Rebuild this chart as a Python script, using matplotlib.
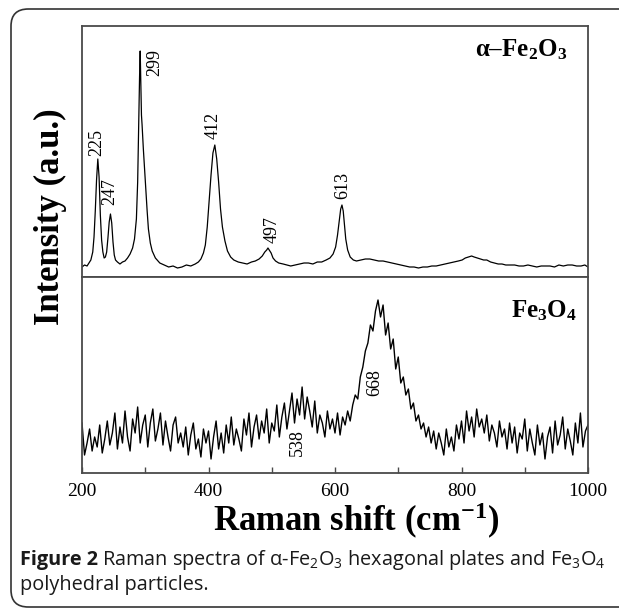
import matplotlib
matplotlib.use("Agg")
import matplotlib.pyplot as plt
from matplotlib.patches import FancyBboxPatch

plt.rcParams["font.family"] = ["Liberation Serif", "DejaVu Serif"]
plt.rcParams["mathtext.fontset"] = "custom"
plt.rcParams["mathtext.rm"] = "Liberation Serif"
plt.rcParams["mathtext.bf"] = "Liberation Serif:bold"
plt.rcParams["mathtext.it"] = "Liberation Serif:italic"
plt.rcParams["mathtext.sf"] = "Open Sans"

# alpha-Fe2O3 spectrum
top_shift = [200, 204, 208, 211, 214, 217, 219, 221, 223, 225, 227, 229, 231, 233, 235,
             237, 239, 241, 243, 245, 247, 249, 251, 253, 256, 260, 264, 268, 272, 276,
             280, 283, 286, 288, 289.5, 291, 292, 293, 294, 295, 297, 300, 303, 305, 308,
             311, 316, 323, 330, 337, 344, 351, 358, 365, 372, 379, 384, 388, 392, 395,
             398, 401, 404, 407, 410, 413, 416, 419, 422, 426, 430, 435, 440, 447, 454,
             461, 468, 474, 480, 485, 489, 492, 494, 496, 499, 502, 506, 511, 518, 524,
             530, 537, 544, 551, 558, 565, 572, 579, 586, 592, 597, 601, 604, 607, 609,
             611, 613, 615, 617, 620, 624, 629, 634, 641, 648, 655, 662, 669, 676, 683,
             690, 697, 704, 711, 718, 725, 732, 739, 746, 753, 760, 767, 774, 781, 788,
             795, 801, 806, 811, 816, 820, 825, 830, 835, 840, 846, 852, 858, 864, 870,
             877, 884, 891, 898, 905, 912, 919, 926, 933, 940, 947, 954, 961, 968, 975,
             982, 989, 995, 1000]
top_intensity = [10, 12, 11, 14, 17, 25, 40, 66, 97, 118, 100, 62, 37, 25, 19,
                 20, 25, 39, 55, 63, 54, 35, 22, 17, 15, 13, 15, 16, 19, 23,
                 29, 38, 58, 95, 147, 200, 226, 195, 162, 152, 128, 97, 66, 48, 34,
                 26, 19, 14, 12, 10, 11, 9, 10, 12, 11, 13, 15, 18, 24, 32,
                 50, 76, 102, 124, 132, 118, 95, 68, 50, 36, 26, 20, 17, 15, 14,
                 13, 15, 16, 18, 21, 25, 27, 29, 27, 24, 19, 16, 14, 13, 12,
                 11, 12, 13, 14, 14, 13, 15, 15, 17, 19, 23, 30, 42, 58, 68,
                 72, 66, 52, 38, 27, 20, 17, 16, 17, 18, 18, 17, 16, 16, 15,
                 14, 13, 12, 11, 10, 10, 9, 10, 10, 11, 11, 12, 13, 14, 15,
                 16, 17, 19, 20, 21, 20, 19, 18, 17, 17, 15, 14, 13, 13, 12,
                 12, 12, 11, 11, 12, 11, 10, 11, 11, 11, 10, 12, 11, 12, 12,
                 11, 11, 12, 10]

# Fe3O4 spectrum, 4 cm-1 steps from 200 to 1000
bottom_shift = list(range(200, 1001, 4))
bottom_intensity = [
    50, 18, 30, 44, 22, 36, 26, 48, 20, 34,
    52, 28, 40, 60, 24, 46, 30, 62, 36, 22,
    54, 40, 66, 30, 48, 58, 26, 50, 64, 32,
    44, 60, 28, 52, 36, 22, 48, 56, 30, 40,
    26, 46, 18, 38, 50, 24, 34, 16, 44, 30,
    42, 14, 36, 52, 24, 40, 20, 48, 30, 56,
    28, 44, 34, 22, 54, 38, 60, 26, 46, 58,
    34, 52, 40, 64, 30, 50, 42, 68, 36, 56,
    70, 44, 62, 80, 50, 74, 58, 86, 54, 76,
    62, 46, 72, 40, 58, 50, 36, 62, 44, 54,
    40, 60, 38, 56, 48, 62, 52, 68, 78, 74,
    96, 106, 122, 130, 148, 142, 162, 173, 156, 168,
    138, 150, 124, 134, 104, 116, 90, 96, 78, 84,
    64, 70, 52, 58, 44, 50, 36, 46, 30, 42,
    24, 40, 30, 18, 44, 26, 36, 22, 48, 34,
    52, 30, 62, 42, 56, 36, 64, 46, 54, 40,
    58, 32, 48, 40, 26, 52, 36, 44, 24, 50,
    30, 46, 20, 40, 34, 54, 22, 44, 30, 18,
    48, 28, 40, 14, 36, 46, 20, 52, 28, 38,
    56, 24, 44, 32, 18, 50, 30, 60, 26, 42,
    48]

top_peaks = ["225", "247", "299", "412", "497", "613"]
top_peak_x = [223.7, 244, 315.4, 407, 500, 612.6]
top_peak_y = [135, 85, 214, 152, 47, 92]
bottom_peaks = ["538", "668"]
bottom_peak_x = [540, 663]
bottom_peak_y = [30, 90]

xticks = [200, 400, 600, 800, 1000]
xminor = [300, 500, 700, 900]

W, H = 619, 609
fig = plt.figure(figsize=(W / 100, H / 100), dpi=100)

spine_c = "#4a4a4a"
ax_top = fig.add_axes([82 / W, 1 - 277 / H, 506 / W, 251 / H])
ax_bot = fig.add_axes([82 / W, 1 - 473 / H, 506 / W, 196 / H], sharex=ax_top)

ax_top.plot(top_shift, top_intensity, color="black", lw=0.9)
ax_bot.plot(bottom_shift, bottom_intensity, color="black", lw=1.0)

ax_top.set_ylim(0, 251)
ax_bot.set_ylim(0, 196)
ax_bot.set_xlim(200, 1000)

for ax in (ax_top, ax_bot):
    for s in ax.spines.values():
        s.set_color(spine_c)
        s.set_linewidth(1.3)
    ax.set_yticks([])
ax_top.tick_params(axis="x", bottom=False, labelbottom=False)
ax_bot.set_xticks(xticks)
ax_bot.set_xticks(xminor, minor=True)
ax_bot.tick_params(axis="x", which="both", direction="in", length=4, width=1,
                   color=spine_c, labelsize=14, pad=7)

for lab, x, y in zip(top_peaks, top_peak_x, top_peak_y):
    ax_top.text(x, y, lab, rotation=90, ha="center", va="center", fontsize=13)
for lab, x, y in zip(bottom_peaks, bottom_peak_x, bottom_peak_y):
    ax_bot.text(x, y, lab, rotation=90, ha="center", va="center", fontsize=13)

ax_top.text(967, 227, "α–Fe$_\\mathbf{2}$O$_\\mathbf{3}$", ha="right", va="center",
            fontsize=18, fontweight="bold")
ax_bot.text(983, 162, "Fe$_\\mathbf{3}$O$_\\mathbf{4}$", ha="right", va="center",
            fontsize=18, fontweight="bold")

fig.text(356 / W, 1 - 521 / H, "Raman shift (cm$^{\\mathbf{-1}}$)", ha="center",
         va="center", fontsize=25, fontweight="bold")
fig.text(50 / W, 1 - 217 / H, "Intensity (a.u.)", ha="center", va="center",
         rotation=90, fontsize=25, fontweight="bold")

# caption
cap_kw = dict(family=["Open Sans", "DejaVu Sans"], fontsize=14.3, color="#1a1a1a",
              va="baseline")
t1 = fig.text(20 / W, 1 - 565 / H, "Figure 2", fontweight="bold", **cap_kw)
r = fig.canvas.get_renderer()
w1 = t1.get_window_extent(r).width
fig.text(20 / W + (w1 + 4) / W, 1 - 565 / H,
         "Raman spectra of α-Fe$_\\mathsf{2}$O$_\\mathsf{3}$ hexagonal plates and "
         "Fe$_\\mathsf{3}$O$_\\mathsf{4}$", **cap_kw)
fig.text(20 / W, 1 - 590 / H, "polyhedral particles.", **cap_kw)

# rounded frame around the figure
frame = FancyBboxPatch((11 / W, 2 / H), 640 / W, (607 - 9) / H,
                       boxstyle="round,pad=0,rounding_size=0.028",
                       transform=fig.transFigure, fill=False,
                       edgecolor="#333333", linewidth=1.2, clip_on=False)
fig.patches.append(frame)

fig.savefig("out.png", dpi=100)
